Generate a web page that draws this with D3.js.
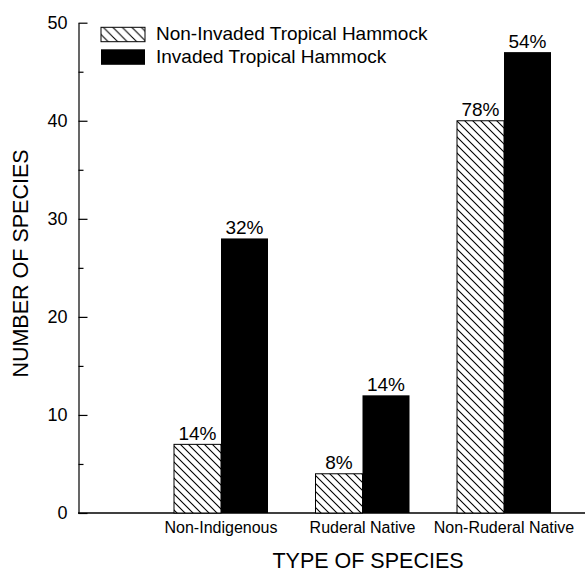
<!DOCTYPE html>
<html>
<head>
<meta charset="utf-8">
<script src="https://cdn.jsdelivr.net/npm/d3@7"></script>
<style>
  body { margin: 0; background: #fff; }
  text { font-family: "Liberation Sans", Arial, sans-serif; fill: #000; }
</style>
</head>
<body>
<div id="chart"></div>
<script>
// data
const categories = ["Non-Indigenous", "Ruderal Native", "Non-Ruderal Native"];
const seriesNames = ["Non-Invaded Tropical Hammock", "Invaded Tropical Hammock"];
const nonInvaded = [7, 4, 40];
const invaded = [28, 12, 47];
const nonInvadedPct = ["14%", "8%", "78%"];
const invadedPct = ["32%", "14%", "54%"];
const yTicks = [0, 10, 20, 30, 40, 50];
const yMinor = [5, 15, 25, 35, 45];

const width = 585, height = 572;

const svg = d3.select("#chart").append("svg")
    .attr("width", width)
    .attr("height", height);

// hatch pattern, lines running top-left to bottom-right
function hatch(id, size) {
  const p = svg.append("defs").append("pattern")
      .attr("id", id)
      .attr("patternUnits", "userSpaceOnUse")
      .attr("width", size)
      .attr("height", size);
  p.append("rect").attr("width", size).attr("height", size).attr("fill", "#fff");
  p.append("path")
      .attr("d", `M${-size / 2},${size / 2}L${size / 2},${size * 1.5}M0,0L${size},${size}M${size / 2},${-size / 2}L${size * 1.5},${size / 2}`)
      .attr("stroke", "#000")
      .attr("stroke-width", 1.1);
}
hatch("hatch", 8);
hatch("hatchLegend", 9.5);

// scales: groups sit at 1,2,3 with the axis at 0
const x = d3.scaleLinear().domain([0, 3]).range([79.5, 504]);
const y = d3.scaleLinear().domain([0, 50]).range([513, 22.7]);
const barW = 47;

// y axis, major ticks pointing inward
svg.append("g")
    .attr("transform", "translate(78.5,0)")
    .call(d3.axisLeft(y).tickValues(yTicks).tickSizeInner(-9).tickSizeOuter(0).tickPadding(11))
    .call(g => g.selectAll("text").style("font-size", "18px").attr("font-family", null))
    .call(g => g.selectAll("line, path").attr("stroke-width", 1.2));

// minor ticks
svg.append("g")
    .attr("transform", "translate(78.5,0)")
    .call(d3.axisLeft(y).tickValues(yMinor).tickSizeInner(-5).tickFormat(""))
    .call(g => g.select(".domain").remove())
    .call(g => g.selectAll("line").attr("stroke-width", 1.2));

// baseline
svg.append("line")
    .attr("x1", 78).attr("x2", 585)
    .attr("y1", y(0)).attr("y2", y(0))
    .attr("stroke", "#000")
    .attr("stroke-width", 1.3);

const groups = svg.selectAll(".grp")
    .data(categories)
    .enter().append("g")
    .attr("class", "grp");

// non-invaded (hatched)
groups.append("rect")
    .attr("x", (d, i) => x(i + 1) - barW)
    .attr("y", (d, i) => y(nonInvaded[i]))
    .attr("width", barW)
    .attr("height", (d, i) => y(0) - y(nonInvaded[i]))
    .attr("fill", "url(#hatch)")
    .attr("stroke", "#000")
    .attr("stroke-width", 1);

// invaded (solid)
groups.append("rect")
    .attr("x", (d, i) => x(i + 1))
    .attr("y", (d, i) => y(invaded[i]))
    .attr("width", barW)
    .attr("height", (d, i) => y(0) - y(invaded[i]))
    .attr("fill", "#000");

// percent labels
groups.append("text")
    .attr("x", (d, i) => x(i + 1) - barW / 2)
    .attr("y", (d, i) => y(nonInvaded[i]) - 4.5)
    .attr("text-anchor", "middle")
    .style("font-size", "19px")
    .text((d, i) => nonInvadedPct[i]);

groups.append("text")
    .attr("x", (d, i) => x(i + 1) + barW / 2)
    .attr("y", (d, i) => y(invaded[i]) - 4.5)
    .attr("text-anchor", "middle")
    .style("font-size", "19px")
    .text((d, i) => invadedPct[i]);

// category labels
groups.append("text")
    .attr("x", (d, i) => x(i + 1))
    .attr("y", 533.3)
    .attr("text-anchor", "middle")
    .style("font-size", "16px")
    .text(d => d);

// axis titles
svg.append("text")
    .attr("x", 368)
    .attr("y", 568.3)
    .attr("text-anchor", "middle")
    .style("font-size", "21.5px")
    .text("TYPE OF SPECIES");

svg.append("text")
    .attr("transform", "translate(28.3,263.5) rotate(-90)")
    .attr("text-anchor", "middle")
    .style("font-size", "21.5px")
    .text("NUMBER OF SPECIES");

// legend
const legend = svg.append("g");
legend.append("rect")
    .attr("x", 101).attr("y", 27.3)
    .attr("width", 44).attr("height", 14.4)
    .attr("fill", "url(#hatchLegend)")
    .attr("stroke", "#000")
    .attr("stroke-width", 1);
legend.append("rect")
    .attr("x", 101).attr("y", 49.3)
    .attr("width", 44).attr("height", 15.5)
    .attr("fill", "#000");
legend.selectAll(".lt")
    .data(seriesNames)
    .enter().append("text")
    .attr("class", "lt")
    .attr("x", 156)
    .attr("y", (d, i) => 40.3 + i * 23)
    .style("font-size", "19px")
    .text(d => d);
</script>
</body>
</html>
